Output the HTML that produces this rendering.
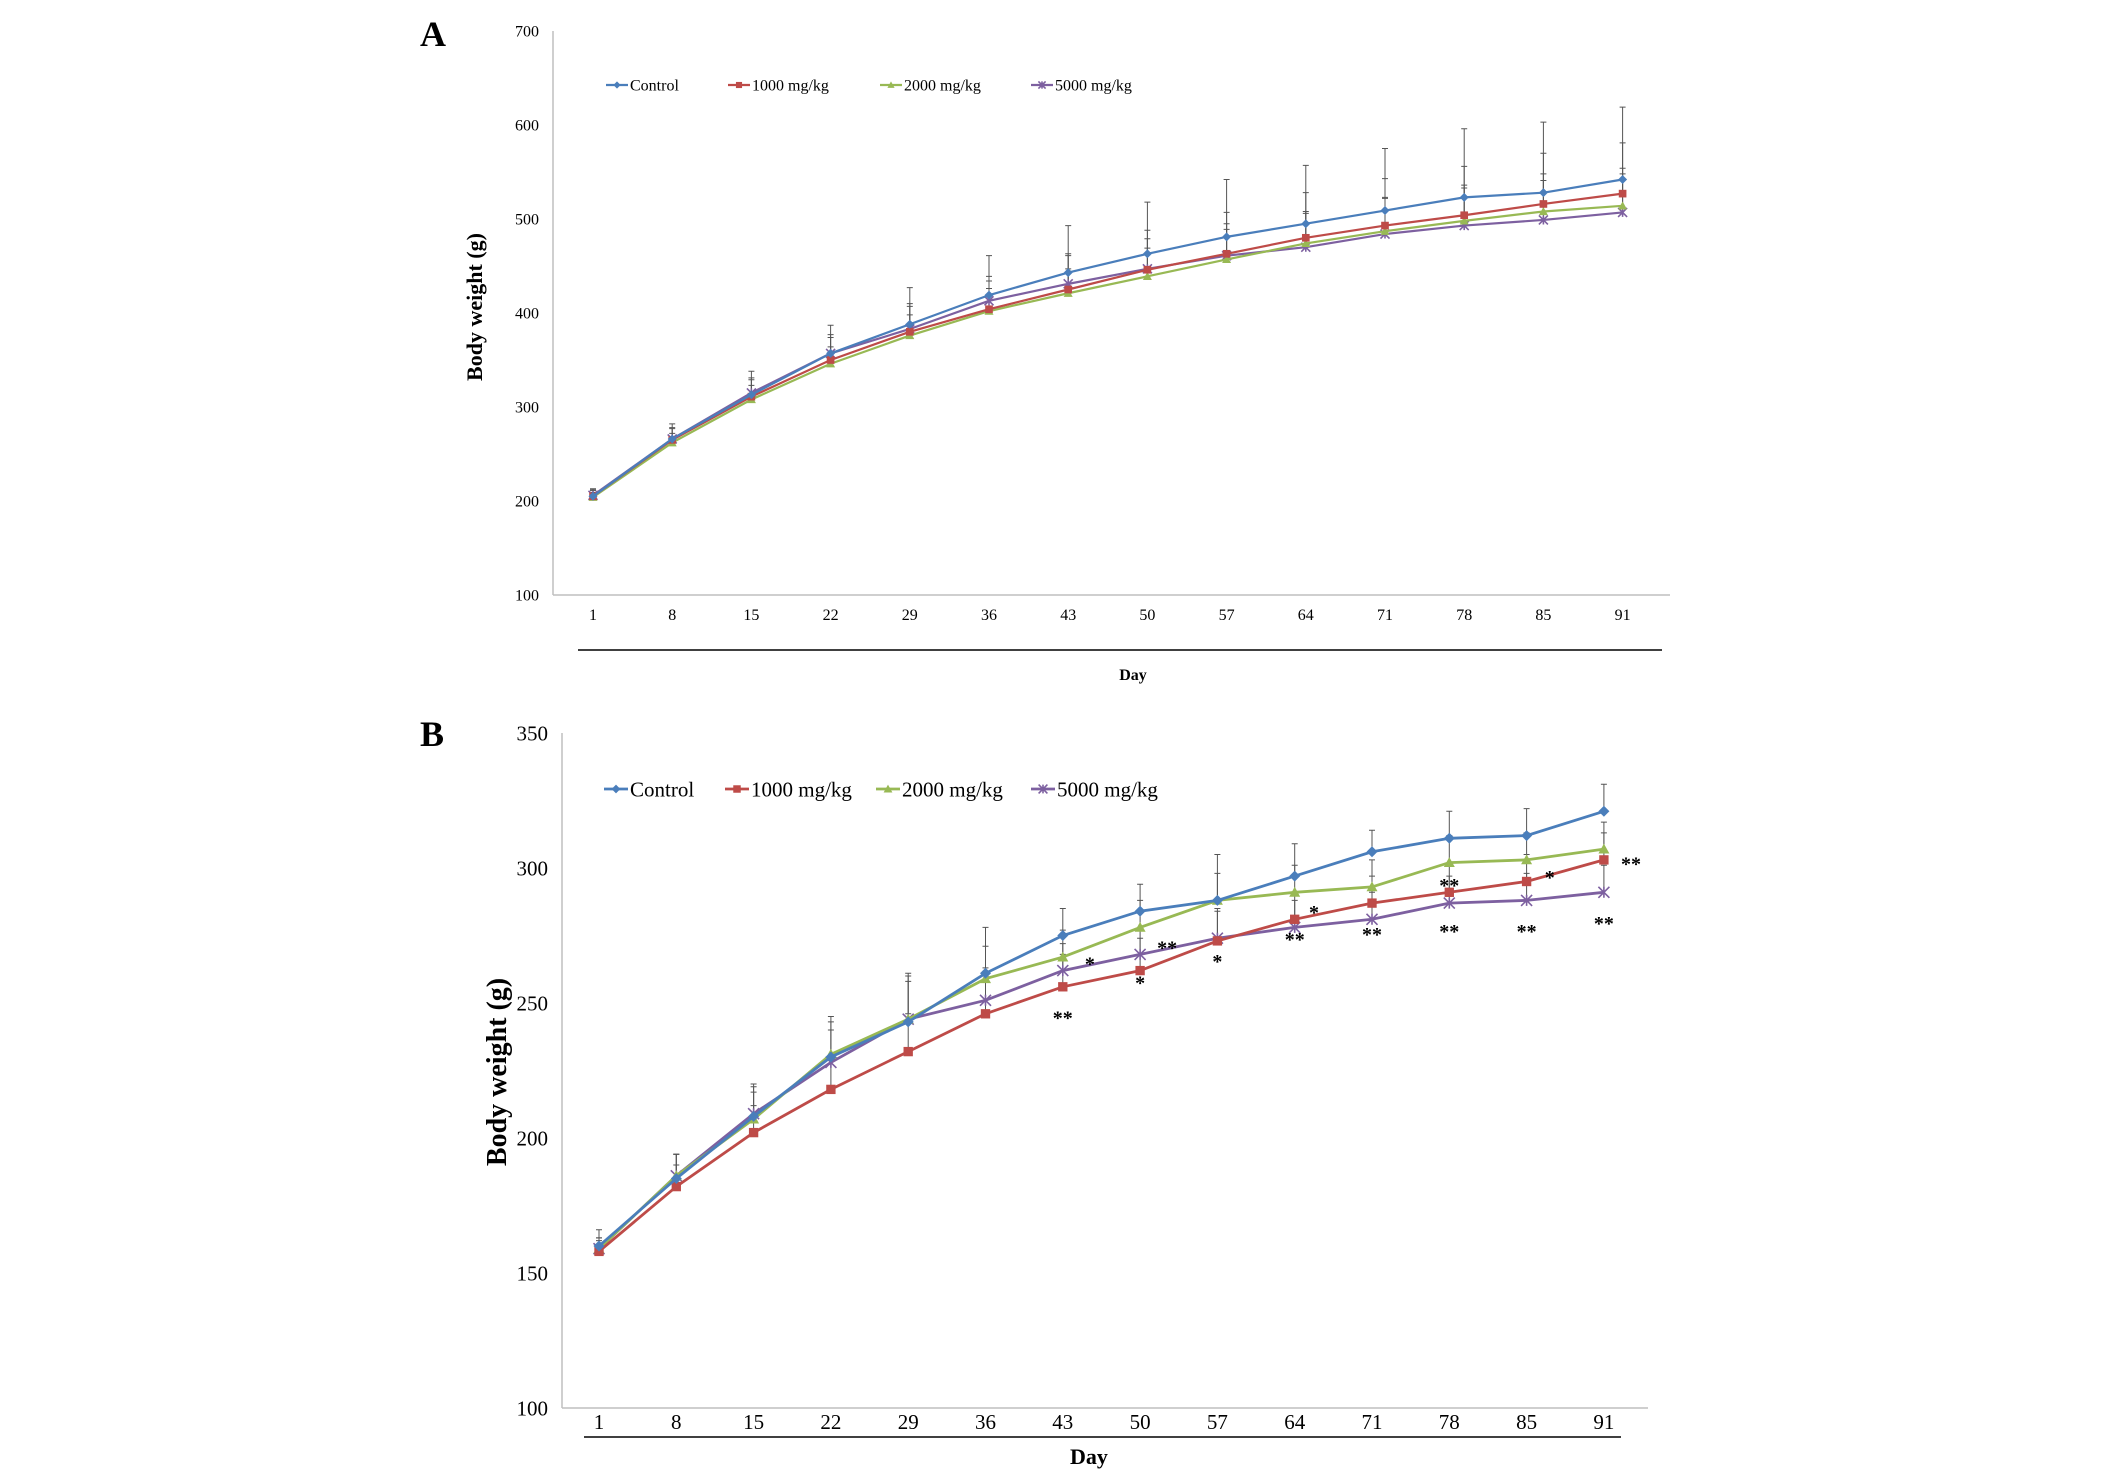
<!DOCTYPE html>
<html><head><meta charset="utf-8">
<style>
html,body{margin:0;padding:0;background:#fff;}
svg{display:block;}
text{font-family:"Liberation Serif",serif;fill:#000;}
</style></head>
<body>
<svg id="fig" width="2126" height="1473" viewBox="0 0 2126 1473"></svg>
<script>
const days = ["1","8","15","22","29","36","43","50","57","64","71","78","85","91"];
const seriesNames = ["Control","1000 mg/kg","2000 mg/kg","5000 mg/kg"];
// Panel A
const aControl = [205,266,313,357,388,419,443,463,481,495,509,523,528,542];
const a1000 = [205,265,311,350,380,404,425,446,463,480,493,504,516,527];
const a2000 = [204,262,308,346,376,402,421,439,457,474,487,498,508,514];
const a5000 = [206,266,315,357,383,413,431,447,461,470,484,493,499,507];
const aSdControl = [8,16,25,30,39,42,50,55,61,62,66,73,75,77];
const aSd1000 = [6,12,18,24,30,30,38,42,44,48,50,52,54,54];
const aSd2000 = [5,10,15,18,22,24,26,30,32,34,36,38,40,40];
const aSd5000 = [6,12,16,20,24,26,30,32,34,36,38,40,42,41];
const aTicks = [100,200,300,400,500,600,700];
// Panel B
const bControl = [160,185,208,230,243,261,275,284,288,297,306,311,312,321];
const b1000 = [158,182,202,218,232,246,256,262,273,281,287,291,295,303];
const b2000 = [159,186,207,231,244,259,267,278,288,291,293,302,303,307];
const b5000 = [159,186,209,228,244,251,262,268,274,278,281,287,288,291];
const bSdControl = [6,9,12,15,18,17,10,10,17,12,8,10,10,10];
const bSd1000 = [4,8,10,12,14,14,12,12,12,10,10,10,10,10];
const bSd2000 = [4,8,10,12,16,12,10,10,10,10,10,10,10,10];
const bSd5000 = [4,8,10,12,14,12,10,10,10,10,10,10,10,10];
const bTicks = [100,150,200,250,300,350];
const bStarDays = [43,43,50,50,57,64,64,71,78,78,85,85,91,91];
const bStarValues = [245,265,271,258,266,284,274,276,294,277,297,277,302,280];
const bStarText = ["**","*","**","*","*","*","**","**","**","**","*","**","**","**"];
const bStarDx = [0,0.35,0.35,0,0,0.25,0,0,0,0,0.3,0,0.35,0];

const colors = ["#4a7ebb","#be4b48","#98b954","#7d60a0"];
const NS = "http://www.w3.org/2000/svg";
const svg = document.getElementById("fig");
function el(tag, attrs, parent){
  const e = document.createElementNS(NS, tag);
  for (const k in attrs) e.setAttribute(k, attrs[k]);
  (parent||svg).appendChild(e);
  return e;
}
function marker(g, kind, x, y, s, c){
  let m;
  if (kind===0) m = el("polygon",{points:`${x},${y-s} ${x+s},${y} ${x},${y+s} ${x-s},${y}`,fill:c},g);
  else if (kind===1) m = el("rect",{x:x-s*0.85,y:y-s*0.85,width:s*1.7,height:s*1.7,fill:c},g);
  else if (kind===2) m = el("polygon",{points:`${x},${y-s} ${x+s},${y+s*0.8} ${x-s},${y+s*0.8}`,fill:c},g);
  else {
    m = el("path",{d:`M${x-s} ${y-s}L${x+s} ${y+s}M${x-s} ${y+s}L${x+s} ${y-s}M${x} ${y-s}L${x} ${y+s}`,stroke:c,"stroke-width":1.6,fill:"none"},g);
  }
  return m;
}
function drawPanel(cfg){
  const g = el("g",{});
  
  
  const yS = v => cfg.yTop + (cfg.yMax - v)/(cfg.yMax-cfg.yMin)*(cfg.yBot-cfg.yTop);
  const xS = i => cfg.x0 + i*cfg.dx;
  const ya = el("line",{x1:cfg.axX,y1:cfg.yTop,x2:cfg.axX,y2:cfg.yBot,stroke:"#bfbfbf","stroke-width":1.5},g);
  
  
  const xa = el("line",{x1:cfg.axX,y1:cfg.yBot,x2:cfg.axEnd,y2:cfg.yBot,stroke:"#bfbfbf","stroke-width":1.5},g);
  
  
  cfg.ticks.forEach(t=>{
    const tx = el("text",{x:cfg.axX-14,y:yS(t)+cfg.fs*0.35,"text-anchor":"end","font-size":cfg.fs},g);
    tx.textContent = t;
    
    
  });
  days.forEach((d,i)=>{
    const tx = el("text",{x:xS(i),y:cfg.yBot+cfg.fs*cfg.xlOff,"text-anchor":"middle","font-size":cfg.fs},g);
    tx.textContent = d;
    
    
  });
  const sep = el("line",{x1:cfg.sepX1,y1:cfg.sepY,x2:cfg.sepX2,y2:cfg.sepY,stroke:"#000","stroke-width":1.5},g);
  
  
  const xt = el("text",{x:cfg.dayX,y:cfg.dayY,"text-anchor":"middle","font-size":cfg.dayFs,"font-weight":"bold"},g);
  xt.textContent = "Day";
  
  
  const yt = el("text",{x:0,y:0,"text-anchor":"middle","font-size":cfg.ytFs,"font-weight":"bold",transform:`translate(${cfg.ytX},${cfg.ytY}) rotate(-90)`},g);
  yt.textContent = "Body weight (g)";
  
  
  const pl = el("text",{x:cfg.plX,y:cfg.plY,"font-size":36,"font-weight":"bold"},g);
  pl.textContent = cfg.label;
  
  
  cfg.series.forEach((s,k)=>{
    s.forEach((v,i)=>{
      const x = xS(i), y1 = yS(v), y2 = yS(v+cfg.sd[k][i]);
      const eb = el("path",{d:`M${x} ${y1}L${x} ${y2}M${x-3} ${y2}L${x+3} ${y2}`,stroke:"#555","stroke-width":1},g);
      
      
    });
  });
  [3,2,1,0].forEach(k=>{
    const s = cfg.series[k];
    const pts = s.map((v,i)=>`${xS(i)},${yS(v)}`).join(" ");
    const ln = el("polyline",{points:pts,fill:"none",stroke:colors[k],"stroke-width":cfg.lw},g);
    
    
    s.forEach((v,i)=>{
      const m = marker(g,k,xS(i),yS(v),cfg.ms,colors[k]);
      
      
    });
  });
  seriesNames.forEach((n,k)=>{
    const lx = cfg.legX[k];
    const lg = el("g",{},g);
    
    
    el("line",{x1:lx,y1:cfg.legY,x2:lx+cfg.legLen,y2:cfg.legY,stroke:colors[k],"stroke-width":cfg.lw},lg);
    marker(lg,k,lx+cfg.legLen/2,cfg.legY,cfg.ms*0.8,colors[k]);
    const t = el("text",{x:lx+cfg.legLen+2,y:cfg.legY+cfg.legFs*0.35,"font-size":cfg.legFs},lg);
    t.textContent = n;
  });
  return {g,xS,yS};
}
drawPanel({name:"chart-a",label:"A",plX:420,plY:46,axX:553,axEnd:1670,yTop:31,yBot:595,yMin:100,yMax:700,
  x0:593,dx:79.2,ticks:aTicks,fs:16,xlOff:1.55,sepX1:578,sepX2:1662,sepY:650,dayX:1133,dayY:680,dayFs:16,
  ytX:482,ytY:307,ytFs:22,lw:2.2,ms:4.5,
  series:[aControl,a1000,a2000,a5000],sd:[aSdControl,aSd1000,aSd2000,aSd5000],
  legX:[606,728,880,1031],legY:85,legLen:22,legFs:16});
const pB = drawPanel({name:"chart-b",label:"B",plX:420,plY:746,axX:562,axEnd:1648,yTop:733,yBot:1408,yMin:100,yMax:350,
  x0:599,dx:77.3,ticks:bTicks,fs:21,xlOff:1.0,sepX1:584,sepX2:1621,sepY:1437,dayX:1089,dayY:1464,dayFs:22,
  ytX:506,ytY:1072,ytFs:28,lw:2.8,ms:5.5,
  series:[bControl,b1000,b2000,b5000],sd:[bSdControl,bSd1000,bSd2000,bSd5000],
  legX:[604,725,876,1031],legY:789,legLen:24,legFs:21});
bStarDays.forEach((d,i)=>{
  const idx = days.indexOf(String(d));
  const t = el("text",{x:pB.xS(idx+bStarDx[i]),y:pB.yS(bStarValues[i])+8,"text-anchor":"middle","font-size":20,"font-weight":"bold"},pB.g);
  t.textContent = bStarText[i];
  
  
});
</script>
</body></html>
